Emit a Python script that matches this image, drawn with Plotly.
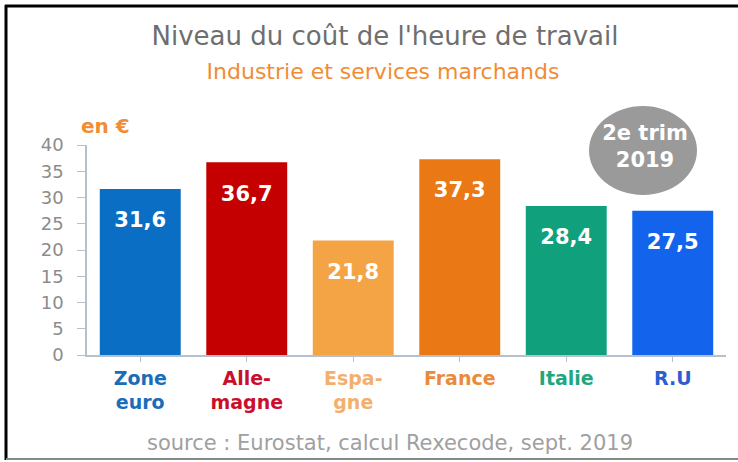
import plotly.graph_objects as go

categories = ["Zone<br>euro", "Alle-<br>magne", "Espa-<br>gne", "France", "Italie", "R.U"]
values = [31.6, 36.7, 21.8, 37.3, 28.4, 27.5]
value_labels = ["31,6", "36,7", "21,8", "37,3", "28,4", "27,5"]
colors = ["#0a6ec4", "#c40000", "#f4a445", "#ea7814", "#10a07c", "#1463ec"]
label_colors = ["#1a6db8", "#c8102e", "#f2b070", "#ea8a3a", "#20a680", "#2a5fd0"]
y_ticks = [0, 5, 10, 15, 20, 25, 30, 35, 40]

FONT = "DejaVu Sans"
W, H = 738, 462
PL, PR, PT, PB = 87, 726, 145, 355  # plot area in pixels
Y_MAX = 40
PX_PER_UNIT = (PB - PT) / Y_MAX
LABEL_DROP = 33 / PX_PER_UNIT  # value label sits ~33 px below bar top

fig = go.Figure()
fig.add_trace(go.Bar(
    x=list(range(len(categories))), y=values,
    marker=dict(color=colors, line=dict(width=0)),
    hoverinfo="skip",
))

# value labels inside the bars
fig.add_trace(go.Scatter(
    x=list(range(len(categories))), y=[v - LABEL_DROP for v in values],
    mode="text", text=["<b>%s</b>" % t for t in value_labels],
    textposition="middle center", cliponaxis=False, hoverinfo="skip",
    textfont=dict(family=FONT, size=21, color="white"),
))


# free texts drawn on an invisible full-figure pixel-space axis pair
def text_trace(text, x, y, size, color, pos="middle center"):
    return go.Scatter(x=[x], y=[y], mode="text", text=[text], textposition=pos,
                      xaxis="x2", yaxis="y2", cliponaxis=False, hoverinfo="skip",
                      textfont=dict(family=FONT, size=size, color=color))


fig.add_trace(text_trace("Niveau du coût de l'heure de travail", 385, 38, 26, "#6e6e6e"))
fig.add_trace(text_trace("Industrie et services marchands", 383, 73, 22, "#f08c36"))
fig.add_trace(text_trace("<b>en €</b>", 81, 128, 20, "#f08c36", "middle right"))
fig.add_trace(text_trace("<b>2e trim<br>2019</b>", 645, 148, 21, "white"))
fig.add_trace(text_trace("source : Eurostat, calcul Rexecode, sept. 2019", 390, 445, 21, "#a0a0a0"))

ticktext = ["<b><span style='color:%s'>%s</span></b>" % (c, t) for c, t in zip(label_colors, categories)]

fig.update_layout(
    width=W, height=H,
    margin=dict(l=0, r=0, t=0, b=0, pad=0),
    paper_bgcolor="white", plot_bgcolor="rgba(0,0,0,0)",
    showlegend=False,
    bargap=0.24,
    xaxis=dict(
        domain=[PL / W, PR / W], anchor="y",
        tickmode="array", tickvals=list(range(len(categories))), ticktext=ticktext,
        range=[-0.5, len(categories) - 0.5],
        showline=True, linecolor="#b4c0cc", linewidth=1.5,
        ticks="outside", tickson="boundaries", ticklen=5, tickcolor="#b4c0cc",
        showgrid=False, zeroline=False, automargin=False,
        tickfont=dict(family=FONT, size=19),
    ),
    yaxis=dict(
        domain=[(H - PB) / H, (H - PT) / H], anchor="x",
        range=[0, Y_MAX], tickvals=y_ticks,
        showline=True, linecolor="#b4c0cc", linewidth=1.5,
        ticks="outside", ticklen=8, tickcolor="#b4c0cc",
        ticklabelstandoff=10,
        showgrid=False, zeroline=False, automargin=False,
        tickfont=dict(family=FONT, size=18, color="#8c8c8c"),
    ),
    xaxis2=dict(domain=[0, 1], anchor="y2", range=[0, W], visible=False, fixedrange=True),
    yaxis2=dict(domain=[0, 1], anchor="x2", range=[H, 0], visible=False, fixedrange=True),
    shapes=[
        dict(type="line", xref="x2", yref="y2", x0=5, x1=W, y0=6, y1=6,
             line=dict(color="black", width=3), layer="below"),
        dict(type="line", xref="x2", yref="y2", x0=6, x1=6, y0=5, y1=460,
             line=dict(color="black", width=3), layer="below"),
        dict(type="line", xref="x2", yref="y2", x0=6, x1=W, y0=459, y1=459,
             line=dict(color="#888888", width=2), layer="below"),
        dict(type="circle", xref="x2", yref="y2", x0=589, x1=697, y0=106, y1=195,
             fillcolor="#9a9a9a", line=dict(width=0), layer="below"),
    ],
)

fig.write_html("out.html", config={"displayModeBar": False},
               post_script="document.body.style.margin='0';")
